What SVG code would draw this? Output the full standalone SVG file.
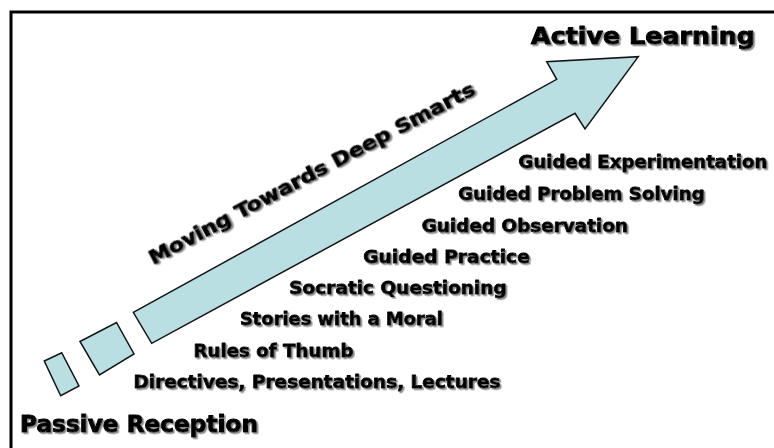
<svg xmlns="http://www.w3.org/2000/svg" width="774" height="448" viewBox="0 0 774 448">
  <defs>
    <filter id="shadow" x="-5%" y="-20%" width="110%" height="150%">
      <feDropShadow dx="1.6" dy="1.6" stdDeviation="0.4" flood-color="#8a8a8a" flood-opacity="1"/>
    </filter>
  </defs>
  <style>
    .frame { fill: none; stroke: #000; stroke-width: 3; }
    .band { fill: #b9dfe2; stroke: #141414; stroke-width: 1.5; stroke-linejoin: miter; }
    .lbl { font-family: "DejaVu Sans", "Liberation Sans", sans-serif; font-weight: bold; fill: #000; stroke: #000; stroke-linejoin: round; filter: url(#shadow); }
    .step { font-size: 18px; stroke-width: 0.8; }
    .pole { font-size: 23px; stroke-width: 1; }
    .motto { font-size: 19px; stroke-width: 0.9; }
  </style>

  <rect width="774" height="448" fill="#fff"/>
  <path class="frame" d="M11 448 V12 H774"/>

  <!-- progression arrow: two lead-in blocks and the long shaft -->
  <g id="connectors">
    <polygon id="block-1" class="band" points="44.3,361 61.7,352.7 79,386 60.7,395.7"/>
    <polygon id="block-2" class="band" points="80,341.5 116.5,322.5 134,354 99.5,375"/>
    <polygon id="arrow" class="band" points="133.3,312.3 556.7,79.3 546.7,61.7 638.3,56.7 585,129 575,113.3 151.7,343.3"/>
  </g>

  <g id="motto">
    <text class="lbl motto" transform="translate(153.3,265) rotate(-27.9)" textLength="366" lengthAdjust="spacingAndGlyphs">Moving Towards Deep Smarts</text>
  </g>

  <g id="active-learning">
    <text class="lbl pole" x="531" y="43.5" textLength="224" lengthAdjust="spacingAndGlyphs">Active Learning</text>
  </g>
  <g id="passive-reception">
    <text class="lbl pole" x="20" y="432" textLength="238" lengthAdjust="spacingAndGlyphs">Passive Reception</text>
  </g>

  <g id="step-8"><text class="lbl step" x="518.5" y="168.3" textLength="249" lengthAdjust="spacingAndGlyphs">Guided Experimentation</text></g>
  <g id="step-7"><text class="lbl step" x="458.3" y="200" textLength="246.5" lengthAdjust="spacingAndGlyphs">Guided Problem Solving</text></g>
  <g id="step-6"><text class="lbl step" x="421.7" y="231.6" textLength="206.5" lengthAdjust="spacingAndGlyphs">Guided Observation</text></g>
  <g id="step-5"><text class="lbl step" x="363.3" y="262.6" textLength="166.5" lengthAdjust="spacingAndGlyphs">Guided Practice</text></g>
  <g id="step-4"><text class="lbl step" x="289.3" y="294" textLength="217.5" lengthAdjust="spacingAndGlyphs">Socratic Questioning</text></g>
  <g id="step-3"><text class="lbl step" x="240" y="325" textLength="203" lengthAdjust="spacingAndGlyphs">Stories with a Moral</text></g>
  <g id="step-2"><text class="lbl step" x="193.5" y="356.5" textLength="160" lengthAdjust="spacingAndGlyphs">Rules of Thumb</text></g>
  <g id="step-1"><text class="lbl step" x="133.5" y="388" textLength="367" lengthAdjust="spacingAndGlyphs">Directives, Presentations, Lectures</text></g>
</svg>
